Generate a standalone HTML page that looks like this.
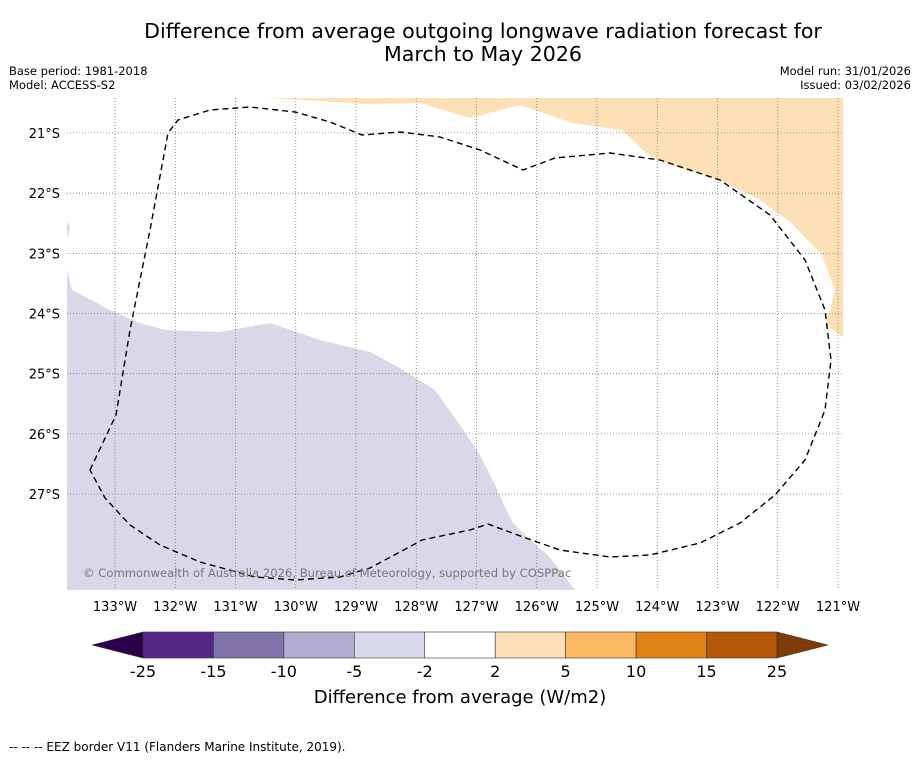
<!DOCTYPE html>
<html><head><meta charset="utf-8"><style>
body{margin:0;background:#fff;font-family:"Liberation Sans","DejaVu Sans",sans-serif}
svg text{font-family:"DejaVu Sans","Liberation Sans",sans-serif}
</style></head><body>
<svg width="919" height="758" viewBox="0 0 919 758" xmlns="http://www.w3.org/2000/svg">
<text x="483" y="38" font-size="20.6" text-anchor="middle">Difference from average outgoing longwave radiation forecast for</text>
<text x="483" y="61" font-size="20.6" text-anchor="middle">March to May 2026</text>
<text x="9" y="75" font-size="11.5">Base period: 1981-2018</text>
<text x="9" y="89" font-size="11.5">Model: ACCESS-S2</text>
<text x="911" y="75" font-size="11.5" text-anchor="end">Model run: 31/01/2026</text>
<text x="911" y="89" font-size="11.5" text-anchor="end">Issued: 03/02/2026</text>
<g id="map">
<polygon fill="#d8d8e9" points="67,270 72,290 110,310 140,323 165,330 220,332 270,323 320,340 370,352 400,368 435,390 460,425 480,455 495,485 512,522 530,540 548,555 575,590 67,590"/>
<polygon fill="#d8d8e9" points="67,222 70,226 68,236 67,236"/>
<polygon fill="#fde0b6" points="265,98 843,98 843,337 826,325 835,290 822,255 790,222 760,200 720,180 680,168 648,155 622,130 572,123 520,105 470,118 420,103 365,104 320,101"/>
<g id="grid"></g>
<polyline fill="none" stroke="#000" stroke-width="1.4" stroke-dasharray="6,4" points="90,470 116,415 130,330 150,230 168,133 178,120 210,110 250,107 295,112 330,122 362,135 400,132 440,137 480,150 523,170 555,158 610,153 660,160 720,180 770,215 805,260 825,310 831,360 825,410 805,460 775,495 740,523 700,543 650,555 610,557 560,550 523,537 488,524 470,530 422,540 400,552 370,568 340,577 295,580 255,577 200,562 160,545 130,525 105,498 90,470"/>
<text x="83" y="577" font-size="11.6" fill="#777">© Commonwealth of Australia 2026, Bureau of Meteorology, supported by COSPPac</text>
</g>
<g id="axes"></g>
<g id="cbar"></g>
<text x="460" y="703" font-size="18" text-anchor="middle">Difference from average (W/m2)</text>
<text x="9" y="751" font-size="12">-- -- -- EEZ border V11 (Flanders Marine Institute, 2019).</text>
</svg>
<script>
const lonTicks=[133,132,131,130,129,128,127,126,125,124,123,122,121];
const latTicks=[21,22,23,24,25,26,27];
const levels=[-25,-15,-10,-5,-2,2,5,10,15,25];
const colors=["#552888","#8073ac","#b2abd2","#d8daeb","#ffffff","#fee0b6","#fdb863","#e08214","#b35806"];
const NS="http://www.w3.org/2000/svg";
const xLon=w=>115+(133-w)*60.25;
const yLat=s=>133+(s-21)*60.17;
function mk(t,a,p){const e=document.createElementNS(NS,t);for(const k in a)e.setAttribute(k,a[k]);p.appendChild(e);return e;}
const grid=document.getElementById('grid'),axes=document.getElementById('axes'),cb=document.getElementById('cbar');
lonTicks.forEach(w=>{const x=xLon(w);
const l=mk('line',{x1:x,x2:x,y1:98,y2:590,stroke:'#777','stroke-width':0.8,'stroke-dasharray':'1,2'},grid);


const t=mk('text',{x:x,y:611,'font-size':13,'text-anchor':'middle'},axes);t.textContent=w+'°W';

});
latTicks.forEach(s=>{const y=yLat(s);
const l=mk('line',{x1:67,x2:843,y1:y,y2:y,stroke:'#777','stroke-width':0.8,'stroke-dasharray':'1,2'},grid);


const t=mk('text',{x:60,y:y+5,'font-size':13,'text-anchor':'end'},axes);t.textContent=s+'°S';

});
const cx0=143,cw=70.44,cy=632,ch=26;
colors.forEach((c,i)=>{const r=mk('rect',{x:cx0+i*cw,y:cy,width:cw,height:ch,fill:c,stroke:'#333','stroke-width':0.6},cb);

});
const lt=mk('polygon',{points:`${cx0},${cy} 92,${cy+13} ${cx0},${cy+ch}`,fill:'#2d004b',stroke:'#333','stroke-width':0.6},cb);


const re=cx0+9*cw;
const rt=mk('polygon',{points:`${re},${cy} 828,${cy+13} ${re},${cy+ch}`,fill:'#7f3b08',stroke:'#333','stroke-width':0.6},cb);


levels.forEach((v,i)=>{const t=mk('text',{x:cx0+i*cw,y:677,'font-size':16,'text-anchor':'middle'},cb);t.textContent=v;

});
</script>
</body></html>
